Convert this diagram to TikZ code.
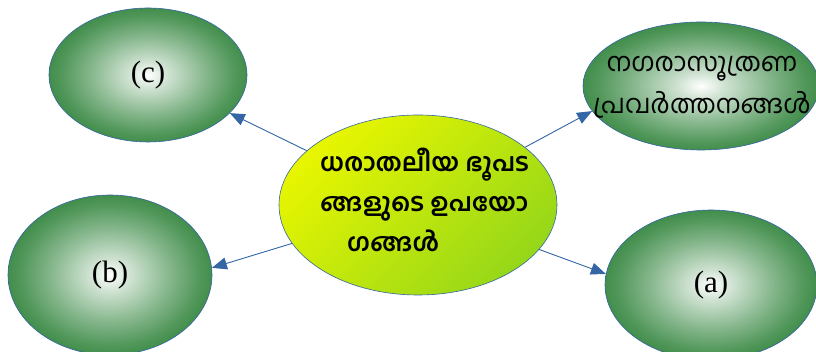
\documentclass[tikz,border=0pt]{standalone}
\usepackage{fontspec}
\setmainfont{Liberation Serif}
\newfontfamily\mlfont[Script=Malayalam]{Hind Kochi}
\usetikzlibrary{shapes.geometric,arrows.meta}
\definecolor{gout}{RGB}{66,142,76}
\definecolor{edgeblue}{RGB}{52,101,164}
\definecolor{ylw}{RGB}{232,246,0}
\definecolor{ygrn}{RGB}{150,215,25}
\pgfdeclareradialshading{greenglow}{\pgfpoint{0bp}{0bp}}{color(0bp)=(white); color(5bp)=(gout!25!white); color(14bp)=(gout!62!white); color(22bp)=(gout!92!white); color(25bp)=(gout); color(50bp)=(gout)}
\tikzset{
  leaf/.style={ellipse, draw=edgeblue, line width=0.6pt, inner sep=0pt, shade, shading=greenglow, font=\fontsize{31}{36}\selectfont},
  hub/.style={ellipse, draw=edgeblue, line width=0.6pt, inner sep=0pt, top color=ylw, bottom color=ygrn, shading angle=45},
  link/.style={draw=edgeblue, line width=0.9pt, -{Triangle[length=15pt,width=12pt]}},
  mltext/.style={inner sep=0pt, font=\mlfont\fontsize{26}{42}\selectfont},
  mlbold/.style={inner sep=0pt, font=\mlfont\bfseries\fontsize{25}{40}\selectfont}
}
\begin{document}
\begin{tikzpicture}[x=1pt,y=1pt]
\useasboundingbox (0,0) rectangle (816,352);
\node[leaf, minimum width=198pt, minimum height=134pt] (C) at (148,277) {(c)};
\node[leaf, minimum width=204pt, minimum height=160pt] (B) at (110,77) {(b)};
\node[leaf, minimum width=236pt, minimum height=128pt] (N) at (701,266) {};
\node[leaf, minimum width=212pt, minimum height=150pt] (A) at (711,67) {(a)};
\node[hub, minimum width=278pt, minimum height=180pt] (M) at (418,147) {};
\node[mltext, align=center] (Nt) at (702,265) {നഗരാസൂത്രണ\\പ്രവർത്തനങ്ങൾ};
\node[mlbold, align=left, anchor=west] (Mt) at (320,152) {ധരാതലീയ ഭൂപട\\ങ്ങളുടെ ഉപയോ\\\hspace*{27pt}ഗങ്ങൾ};
\draw[link] (M) -- (C.-25);
\draw[link] (M) -- (B.4);
\draw[link] (M) -- (N.193);
\draw[link] (M) -- (A.174);
\end{tikzpicture}
\end{document}
